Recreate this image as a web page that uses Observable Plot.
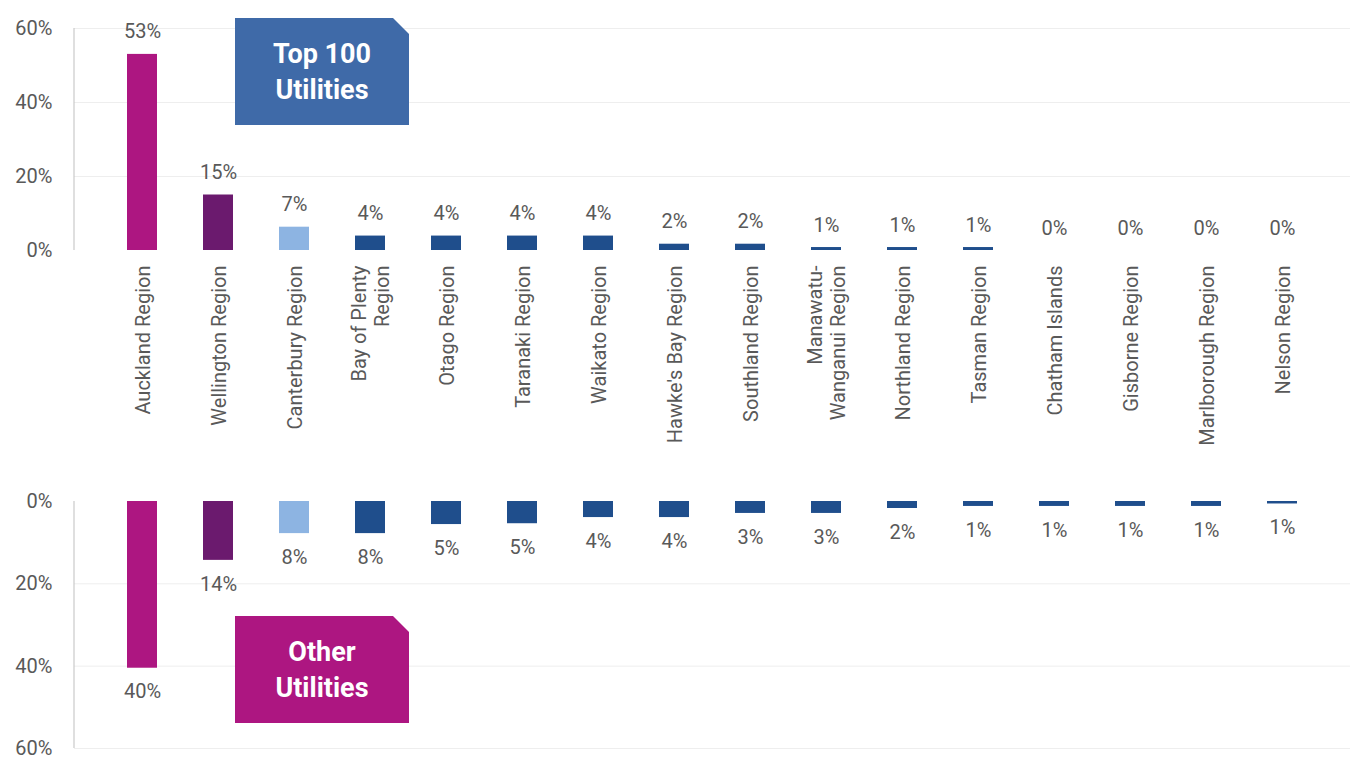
<!DOCTYPE html>
<html><head><meta charset="utf-8">
<script src="https://cdn.jsdelivr.net/npm/d3@7"></script>
<script src="https://cdn.jsdelivr.net/npm/@observablehq/plot@0.6"></script>
<style>
body{margin:0;background:#fff;font-family:Roboto,sans-serif}
#wrap{position:relative;width:1350px;height:770px;overflow:hidden}
#top,#bot{position:absolute;left:0}
#top{top:0}#bot{top:490px}
.box{position:absolute;left:235px;width:174px;height:107px;color:#fff;font-weight:bold;font-size:27px;line-height:36px;display:flex;align-items:center;justify-content:center;text-align:center;clip-path:polygon(0 0,158px 0,174px 16px,174px 100%,0 100%)}
</style></head><body>
<div id="wrap"><div id="top"></div><div id="bot"></div>
<div class="box" style="top:18px;background:#3F6AA8">Top 100<br>Utilities</div>
<div class="box" style="top:616px;background:#AD1681">Other<br>Utilities</div>
</div>
<script>
const regions=["Auckland Region","Wellington Region","Canterbury Region","Bay of Plenty\nRegion","Otago Region","Taranaki Region","Waikato Region","Hawke's Bay Region","Southland Region","Manawatu-\nWanganui Region","Northland Region","Tasman Region","Chatham Islands","Gisborne Region","Marlborough Region","Nelson Region"];
const topValues=[53,15,6.3,3.9,3.9,3.9,3.9,1.7,1.7,0.8,0.8,0.8,0,0,0,0];
const topLabels=["53%","15%","7%","4%","4%","4%","4%","2%","2%","1%","1%","1%","0%","0%","0%","0%"];
const otherValues=[40.5,14.3,7.8,7.8,5.6,5.4,3.9,3.9,2.9,2.9,1.7,1.2,1.2,1.2,1.2,0.6];
const otherLabels=["40%","14%","8%","8%","5%","5%","4%","4%","3%","3%","2%","1%","1%","1%","1%","1%"];
const colors=["#AD1681","#6B1A6E","#8DB4E2","#1F4E8C","#1F4E8C","#1F4E8C","#1F4E8C","#1F4E8C","#1F4E8C","#1F4E8C","#1F4E8C","#1F4E8C","#1F4E8C","#1F4E8C","#1F4E8C","#1F4E8C"];
const yTicks=[0,20,40,60];
const topData=regions.map((r,i)=>({r,v:topValues[i],l:topLabels[i],c:colors[i]}));
const botData=regions.map((r,i)=>({r,v:otherValues[i],l:otherLabels[i],c:colors[i]}));
const grey="#595959";
const common={width:1350,marginLeft:74,marginRight:0,style:{fontFamily:"Roboto, sans-serif",fontSize:"20px",color:grey,background:"transparent"}};
const xs={domain:regions,padding:0.6,axis:null};
const topPlot=Plot.plot({...common,height:490,marginTop:28,marginBottom:240,x:xs,
 y:{domain:[0,60],ticks:yTicks,tickFormat:d=>d+"%"},
 marks:[
  Plot.ruleY(yTicks.slice(1),{stroke:"#eeeeee"}),
  Plot.axisY({ticks:yTicks,tickFormat:d=>d+"%",tickSize:0,tickPadding:22,fontSize:20,fill:grey,label:null}),
  Plot.ruleX([0],{x:()=>null,stroke:"#bfbfbf"}),
  Plot.barY(topData,{x:"r",y:"v",fill:d=>d.c}),
  Plot.text(topData,{x:"r",y:"v",text:"l",dy:-16,lineAnchor:"bottom",fill:grey,fontSize:20}),
  Plot.text(topData,{x:"r",text:"r",frameAnchor:"bottom",dy:15,rotate:-90,textAnchor:"end",lineAnchor:"middle",fill:grey,fontSize:20,lineHeight:1.15})
 ]});
const botPlot=Plot.plot({...common,height:280,marginTop:11,marginBottom:22,x:xs,
 y:{domain:[0,60],reverse:true},
 marks:[
  Plot.ruleY(yTicks.slice(1),{stroke:"#eeeeee"}),
  Plot.axisY({ticks:yTicks,tickFormat:d=>d+"%",tickSize:0,tickPadding:22,fontSize:20,fill:grey,label:null}),
  Plot.barY(botData,{x:"r",y:"v",fill:d=>d.c}),
  Plot.text(botData,{x:"r",y:"v",text:"l",dy:16,lineAnchor:"top",fill:grey,fontSize:20})
 ]});
// vertical axis lines
for(const [p,y1,y2] of [[topPlot,28,250],[botPlot,11,258]]){
 const l=document.createElementNS("http://www.w3.org/2000/svg","line");
 l.setAttribute("x1",74);l.setAttribute("x2",74);l.setAttribute("y1",y1);l.setAttribute("y2",y2);l.setAttribute("stroke","#bfbfbf");
 p.appendChild(l);
}
document.getElementById("top").appendChild(topPlot);
document.getElementById("bot").appendChild(botPlot);
</script></body></html>
